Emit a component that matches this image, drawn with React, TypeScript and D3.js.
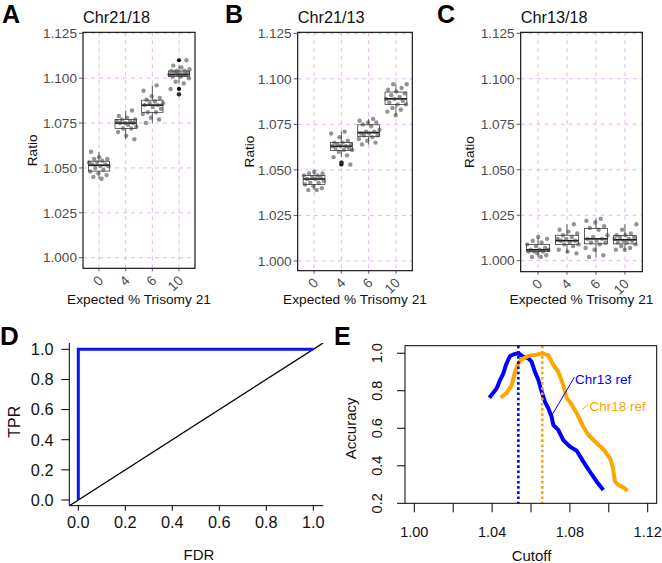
import React from "react";
import * as d3 from "d3";

// ---------- data ----------
const categories = ["0", "4", "6", "10"];
const ratioTicks = [1.0, 1.025, 1.05, 1.075, 1.1, 1.125];

const chr21_18: number[][] = [
  [1.044, 1.045, 1.046, 1.047, 1.048, 1.049, 1.05, 1.051, 1.051, 1.052, 1.052, 1.053, 1.053, 1.054, 1.055, 1.055, 1.056, 1.059],
  [1.066, 1.068, 1.07, 1.072, 1.072, 1.073, 1.074, 1.075, 1.075, 1.075, 1.076, 1.076, 1.077, 1.077, 1.078, 1.079, 1.082],
  [1.075, 1.077, 1.078, 1.08, 1.081, 1.081, 1.083, 1.084, 1.085, 1.085, 1.086, 1.086, 1.087, 1.088, 1.089, 1.09, 1.093, 1.096],
  [1.091, 1.094, 1.097, 1.098, 1.1, 1.101, 1.101, 1.102, 1.102, 1.102, 1.102, 1.103, 1.103, 1.103, 1.104, 1.104, 1.104, 1.105, 1.106, 1.107, 1.11],
];
const chr21_13: number[][] = [
  [1.039, 1.039, 1.04, 1.041, 1.042, 1.043, 1.043, 1.044, 1.045, 1.045, 1.046, 1.046, 1.047, 1.047, 1.048, 1.048, 1.049],
  [1.053, 1.054, 1.057, 1.058, 1.06, 1.061, 1.061, 1.062, 1.062, 1.063, 1.063, 1.063, 1.064, 1.064, 1.065, 1.065, 1.066, 1.068, 1.07, 1.071],
  [1.064, 1.065, 1.066, 1.067, 1.068, 1.069, 1.069, 1.07, 1.07, 1.071, 1.071, 1.072, 1.074, 1.075, 1.076, 1.076, 1.077, 1.078],
  [1.08, 1.082, 1.083, 1.084, 1.086, 1.086, 1.087, 1.088, 1.089, 1.089, 1.09, 1.091, 1.092, 1.093, 1.094, 1.095, 1.097, 1.097],
];
const chr13_18: number[][] = [
  [1.002, 1.002, 1.003, 1.004, 1.005, 1.005, 1.005, 1.006, 1.006, 1.006, 1.007, 1.008, 1.009, 1.01, 1.011, 1.012, 1.013],
  [1.004, 1.005, 1.006, 1.008, 1.009, 1.009, 1.01, 1.011, 1.011, 1.012, 1.012, 1.013, 1.014, 1.015, 1.016, 1.017, 1.02],
  [1.002, 1.003, 1.006, 1.007, 1.009, 1.01, 1.01, 1.011, 1.012, 1.012, 1.013, 1.014, 1.017, 1.018, 1.019, 1.021, 1.022, 1.023],
  [1.006, 1.006, 1.007, 1.008, 1.009, 1.01, 1.01, 1.011, 1.011, 1.012, 1.012, 1.013, 1.013, 1.014, 1.014, 1.015, 1.017, 1.02],
];

const rocFDR = [0, 0, 1];
const rocTPR = [0, 1, 1];
const rocTicks = [0, 0.2, 0.4, 0.6, 0.8, 1.0];

const chr13Cutoff = [1.0386, 1.0406, 1.0424, 1.0441, 1.0458, 1.0471, 1.0492, 1.0518, 1.0535, 1.056, 1.0586, 1.0603, 1.062, 1.0638, 1.0655, 1.0672, 1.0689, 1.0706, 1.0715, 1.074, 1.0766, 1.08, 1.0835, 1.0869, 1.0903, 1.0938, 1.0972];
const chr13Accuracy = [0.763, 0.789, 0.813, 0.857, 0.893, 0.937, 0.985, 0.996, 1.0, 0.981, 0.973, 0.955, 0.901, 0.857, 0.795, 0.741, 0.706, 0.661, 0.617, 0.591, 0.537, 0.502, 0.48, 0.422, 0.368, 0.315, 0.271];
const chr18Cutoff = [1.0444, 1.0475, 1.0501, 1.0518, 1.0535, 1.0552, 1.0586, 1.062, 1.0655, 1.0689, 1.0715, 1.074, 1.0766, 1.0784, 1.08, 1.0835, 1.0869, 1.0895, 1.0938, 1.0972, 1.1006, 1.102, 1.1032, 1.1049, 1.1075, 1.1097];
const chr18Accuracy = [0.763, 0.789, 0.83, 0.901, 0.946, 0.967, 0.985, 0.99, 0.999, 0.99, 0.937, 0.901, 0.83, 0.76, 0.741, 0.68, 0.608, 0.564, 0.52, 0.488, 0.44, 0.395, 0.315, 0.297, 0.285, 0.267];
const bestCutoff13 = 1.0535;
const bestCutoff18 = 1.0658;
const cutoffTicks = [1.0, 1.02, 1.04, 1.06, 1.08, 1.1, 1.12];
const cutoffLabels = [1.0, 1.04, 1.08, 1.12];
const accuracyTicks = [0.2, 0.4, 0.6, 0.8, 1.0];

// ---------- styles ----------
const FONT = "'Liberation Sans', Arial, Helvetica, sans-serif";
const GRID = "#e4b6f0";
const TICKGREY = "#4d4d4d";

type BoxProps = {
  groups: number[][];
  title: string;
  letter: string;
  letterX: number;
  ratioX: number;
  left: number;
  right: number;
  top: number;
  bottom: number;
  y0: number;
  y1: number;
};

function boxStats(vals: number[]) {
  const s = vals.slice().sort(d3.ascending);
  const q1 = d3.quantile(s, 0.25)!;
  const med = d3.quantile(s, 0.5)!;
  const q3 = d3.quantile(s, 0.75)!;
  const iqr = q3 - q1;
  const lo = q1 - 1.5 * iqr;
  const hi = q3 + 1.5 * iqr;
  const inside = s.filter((v) => v >= lo && v <= hi);
  return {
    q1, med, q3,
    wLo: d3.min(inside)!,
    wHi: d3.max(inside)!,
    out: s.filter((v) => v < lo || v > hi),
  };
}

const jitter = (i: number, g: number) => ((((i + 1) * 0.618034 + g * 0.29) % 1) - 0.5) * 0.8;

function BoxPanel(p: BoxProps) {
  const x = d3.scaleLinear().domain([0.4, 4.6]).range([p.left, p.right]);
  const y = d3.scaleLinear().domain([1.0, 1.125]).range([p.y0, p.y1]);
  const unit = x(1) - x(0);
  const bw = 0.8 * unit;
  const cy = (p.top + p.bottom) / 2;
  const cx = (p.left + p.right) / 2;
  return (
    <g>
      <text x={p.letterX} y={23} fontSize={25} fontWeight="bold" fill="#000">{p.letter}</text>
      <text x={p.left} y={22.7} fontSize={16.3} fill="#111">{p.title}</text>
      {ratioTicks.map((t) => (
        <line key={"gy" + t} x1={p.left} x2={p.right} y1={y(t)} y2={y(t)} stroke={GRID} strokeWidth={1} strokeDasharray="4,4" />
      ))}
      {categories.map((c, i) => (
        <line key={"gx" + c} x1={x(i + 1)} x2={x(i + 1)} y1={p.top} y2={p.bottom} stroke={GRID} strokeWidth={1} strokeDasharray="4,4" />
      ))}
      {p.groups.map((vals, i) => {
        const st = boxStats(vals);
        const xc = x(i + 1);
        return (
          <g key={"b" + i}>
            <line x1={xc} x2={xc} y1={y(st.wHi)} y2={y(st.q3)} stroke="#222" strokeWidth={0.7} />
            <line x1={xc} x2={xc} y1={y(st.q1)} y2={y(st.wLo)} stroke="#222" strokeWidth={0.7} />
            <rect x={xc - bw / 2} y={y(st.q3)} width={bw} height={y(st.q1) - y(st.q3)} fill="#fff" stroke="#222" strokeWidth={0.7} />
            <line x1={xc - bw / 2} x2={xc + bw / 2} y1={y(st.med)} y2={y(st.med)} stroke="#111" strokeWidth={1.6} />
            {st.out.map((v, k) => (
              <circle key={"o" + k} cx={xc} cy={y(v)} r={2.1} fill="#111" />
            ))}
          </g>
        );
      })}
      {p.groups.map((vals, i) =>
        vals.map((v, k) => (
          <circle key={"p" + i + "_" + k} cx={x(i + 1 + jitter(k, i))} cy={y(v)} r={2.2} fill="#3a3a3a" fillOpacity={0.55} />
        ))
      )}
      <rect x={p.left} y={p.top} width={p.right - p.left} height={p.bottom - p.top} fill="none" stroke="#000" strokeWidth={1.1} />
      {ratioTicks.map((t) => (
        <g key={"ty" + t}>
          <line x1={p.left - 4} x2={p.left} y1={y(t)} y2={y(t)} stroke="#333" strokeWidth={0.8} />
          <text x={p.left - 6} y={y(t)} dy="0.35em" textAnchor="end" fontSize={13.6} fill={TICKGREY}>{t.toFixed(3)}</text>
        </g>
      ))}
      {categories.map((c, i) => (
        <g key={"tx" + c}>
          <line x1={x(i + 1)} x2={x(i + 1)} y1={p.bottom} y2={p.bottom + 3} stroke="#333" strokeWidth={0.8} />
          <text transform={`translate(${x(i + 1) + 5},${p.bottom + 13}) rotate(-45)`} textAnchor="end" fontSize={13.6} fill={TICKGREY}>{c}</text>
        </g>
      ))}
      <text x={cx} y={304} textAnchor="middle" fontSize={13.7} fill="#111">Expected % Trisomy 21</text>
      <text transform={`translate(${p.ratioX},${cy}) rotate(-90)`} dy="0.35em" textAnchor="middle" fontSize={13.7} fill="#111">Ratio</text>
    </g>
  );
}

function RocPanel() {
  const left = 69.3, right = 323.3, top = 343, bottom = 505.7;
  const x = d3.scaleLinear().domain([0, 1]).range([78.3, 313.3]);
  const y = d3.scaleLinear().domain([0, 1]).range([500, 349.3]);
  const line = d3.line<number>().x((d, i) => x(rocFDR[i])).y((d, i) => y(rocTPR[i]));
  const dLo = x.invert(left), dHi = x.invert(right);
  return (
    <g>
      <text x={0} y={345} fontSize={26} fontWeight="bold" fill="#000">D</text>
      <clipPath id="roc-clip"><rect x={left} y={top} width={right - left} height={bottom - top} /></clipPath>
      <line x1={x(dLo)} y1={y(dLo)} x2={x(dHi)} y2={y(dHi)} stroke="#000" strokeWidth={1.3} clipPath="url(#roc-clip)" />
      <path d={line(rocTPR) || ""} fill="none" stroke="#0a14f0" strokeWidth={3} strokeLinejoin="miter" />
      <line x1={left} x2={left} y1={top} y2={bottom} stroke="#000" strokeWidth={1} />
      <line x1={left} x2={right} y1={bottom} y2={bottom} stroke="#000" strokeWidth={1} />
      {rocTicks.map((t) => (
        <g key={"ry" + t}>
          <line x1={left - 8} x2={left} y1={y(t)} y2={y(t)} stroke="#000" strokeWidth={1} />
          <text x={53.5} y={y(t)} dy="0.36em" textAnchor="end" fontSize={16.3} fill="#111">{t.toFixed(1)}</text>
        </g>
      ))}
      {rocTicks.map((t) => (
        <g key={"rx" + t}>
          <line x1={x(t)} x2={x(t)} y1={bottom} y2={bottom + 5} stroke="#000" strokeWidth={1} />
          <text x={x(t)} y={528.3} textAnchor="middle" fontSize={16.3} fill="#111">{t.toFixed(1)}</text>
        </g>
      ))}
      <text x={199} y={560} textAnchor="middle" fontSize={15} fill="#111">FDR</text>
      <text transform={`translate(14.5,421.7) rotate(-90)`} dy="0.36em" textAnchor="middle" fontSize={16} fill="#111">TPR</text>
    </g>
  );
}

function AccuracyPanel() {
  const left = 405, right = 656.7, top = 345.7, bottom = 503.3;
  const x = d3.scaleLinear().domain([1.0, 1.12]).range([414.3, 647.7]);
  const y = d3.scaleLinear().domain([0.2, 1.04]).range([bottom, top]);
  const l13 = d3.line<number>().x((d, i) => x(chr13Cutoff[i])).y((d) => y(d));
  const l18 = d3.line<number>().x((d, i) => x(chr18Cutoff[i])).y((d) => y(d));
  return (
    <g>
      <text x={334} y={345} fontSize={25} fontWeight="bold" fill="#000">E</text>
      <path d={l13(chr13Accuracy) || ""} fill="none" stroke="#0000ff" strokeWidth={4} strokeLinejoin="round" />
      <path d={l18(chr18Accuracy) || ""} fill="none" stroke="#ffa500" strokeWidth={4} strokeLinejoin="round" />
      <line x1={x(bestCutoff13)} x2={x(bestCutoff13)} y1={top} y2={bottom} stroke="#0000ff" strokeWidth={2.6} strokeDasharray="2.6,2.6" />
      <line x1={x(bestCutoff18)} x2={x(bestCutoff18)} y1={top} y2={bottom} stroke="#ffa500" strokeWidth={2.6} strokeDasharray="2.6,2.6" />
      <line x1={574.5} y1={377} x2={552} y2={415} stroke="#0000ff" strokeWidth={1} />
      <text x={575} y={384} fontSize={13.5} fill="#0000ff">Chr13 ref</text>
      <line x1={588.5} y1={404.5} x2={582} y2={409.5} stroke="#ffa500" strokeWidth={1} />
      <text x={589.5} y={411} fontSize={13.5} fill="#ffa500">Chr18 ref</text>
      <rect x={left} y={top} width={right - left} height={bottom - top} fill="none" stroke="#000" strokeWidth={1} />
      {accuracyTicks.map((t) => (
        <g key={"ay" + t}>
          <line x1={left - 8} x2={left} y1={y(t)} y2={y(t)} stroke="#000" strokeWidth={1} />
          <text transform={`translate(376.7,${y(t)}) rotate(-90)`} dy="0.36em" textAnchor="middle" fontSize={14.5} fill="#111">{t.toFixed(1)}</text>
        </g>
      ))}
      {cutoffTicks.map((t) => (
        <line key={"ax" + t} x1={x(t)} x2={x(t)} y1={bottom} y2={bottom + 9} stroke="#000" strokeWidth={1} />
      ))}
      {cutoffLabels.map((t) => (
        <text key={"al" + t} x={x(t)} y={537} textAnchor="middle" fontSize={14.5} fill="#111">{t.toFixed(2)}</text>
      ))}
      <text x={531.5} y={560.5} textAnchor="middle" fontSize={15} fill="#111">Cutoff</text>
      <text transform={`translate(350.7,428.3) rotate(-90)`} dy="0.36em" textAnchor="middle" fontSize={15} fill="#111">Accuracy</text>
    </g>
  );
}

export default function App() {
  return (
    <svg width={662} height={563} style={{ position: "absolute", left: 0, top: 0, background: "#fff" }} fontFamily={FONT}>
      <rect x={0} y={0} width={662} height={563} fill="#fff" />
      <BoxPanel groups={chr21_18} title="Chr21/18" letter="A" letterX={2} ratioX={32.3} left={83} right={195} top={32.3} bottom={268.3} y0={257.7} y1={33.3} />
      <BoxPanel groups={chr21_13} title="Chr21/13" letter="B" letterX={225} ratioX={249} left={297.7} right={412.3} top={32.3} bottom={270.7} y0={261} y1={33.3} />
      <BoxPanel groups={chr13_18} title="Chr13/18" letter="C" letterX={437} ratioX={469} left={520.7} right={642.3} top={32.3} bottom={271.7} y0={260.7} y1={33.3} />
      <RocPanel />
      <AccuracyPanel />
    </svg>
  );
}
